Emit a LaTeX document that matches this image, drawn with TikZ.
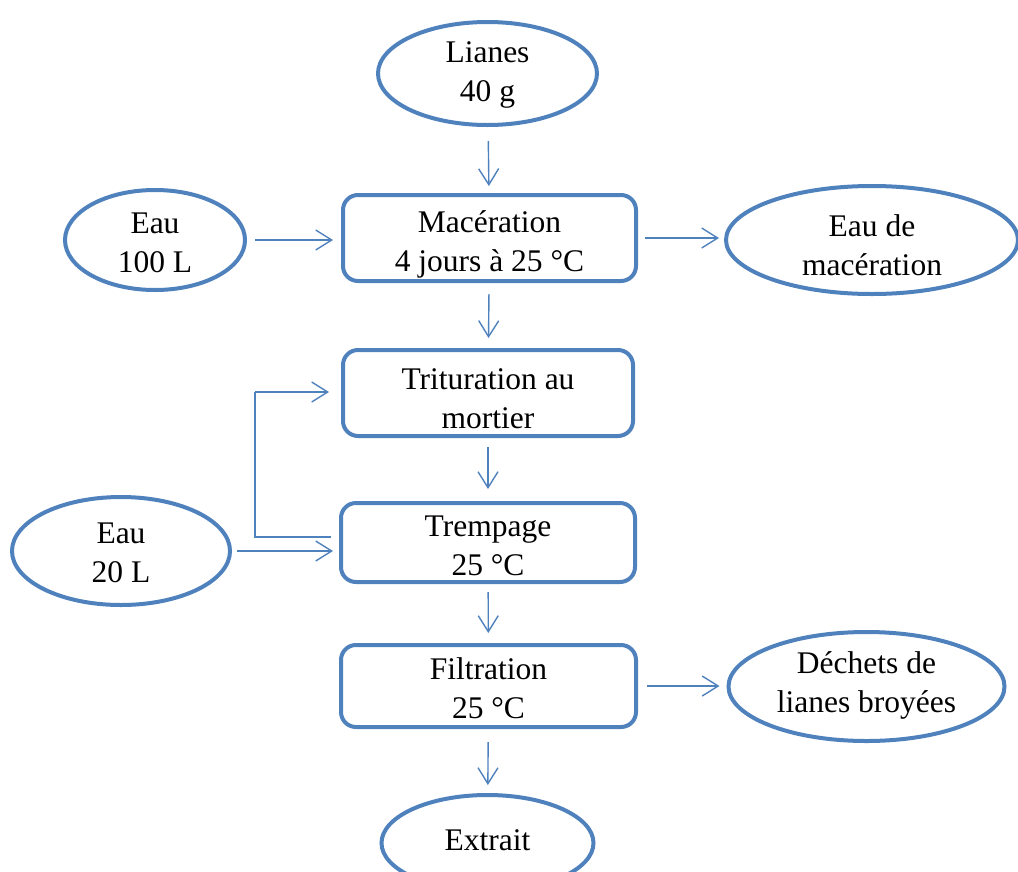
\documentclass[tikz,border=0pt]{standalone}
\usepackage{fontspec}
\setmainfont{Liberation Serif}
\usetikzlibrary{shapes.geometric,arrows.meta}
\definecolor{ofblue}{HTML}{4F81BD}
\begin{document}
\begin{tikzpicture}[x=1pt,y=-1pt,
  every node/.style={font=\fontsize{31.5}{39}\selectfont, align=center, text=black},
  oval/.style={ellipse, draw=ofblue, line width=4pt, inner sep=0pt},
  stepbox/.style={rectangle, rounded corners=15pt, draw=ofblue, line width=4pt, inner sep=0pt},
  arr/.style={draw=ofblue, line width=1.4pt, -{Straight Barb[length=16pt,width=20pt]}},
  plain/.style={draw=ofblue, line width=1.4pt}]
\useasboundingbox (0,0) rectangle (1018,871);
% nodes
\node[oval, minimum width=219pt, minimum height=103pt] (lianes) at (487.5,73.5) {};
\node at (487.5,75) {Lianes\\40 g};
\node[stepbox, minimum width=293pt, minimum height=86pt] (mac) at (489.5,238) {};
\node at (489.5,244) {Macération\\4 jours à 25 °C};
\node[oval, minimum width=180pt, minimum height=100pt] (eau1) at (155,240) {};
\node at (155,243) {Eau\\100 L};
\node[oval, minimum width=292pt, minimum height=108pt] (eaumac) at (872,240) {};
\node at (872,245) {Eau de\\macération};
\node[stepbox, minimum width=290pt, minimum height=86pt] (trit) at (488,393) {};
\node at (488,399) {Trituration au\\mortier};
\node[stepbox, minimum width=294pt, minimum height=79pt] (tremp) at (488,542.5) {};
\node at (488,546) {Trempage\\25 °C};
\node[oval, minimum width=218pt, minimum height=108pt] (eau2) at (121,551) {};
\node at (121,553) {Eau\\20 L};
\node[stepbox, minimum width=295pt, minimum height=82pt] (filt) at (488.5,686) {};
\node at (488.5,688) {Filtration\\25 °C};
\node[oval, minimum width=276pt, minimum height=109pt] (dechets) at (866.5,686.5) {};
\node at (866.5,685) {Déchets de\\lianes broyées};
\node[oval, minimum width=212pt, minimum height=96pt] (extrait) at (487.5,843) {};
\node at (487.5,840) {Extrait};
% connectors
\draw[arr, shorten <=14pt, shorten >=7pt] (lianes) -- (mac);
\draw[arr, shorten <=8pt, shorten >=8pt] (eau1) -- (mac.west|-eau1);
\draw[arr, shorten <=7pt, shorten >=5pt] (mac.east) -- (eaumac.west|-mac.east);
\draw[arr, shorten <=11pt, shorten >=10pt] (mac) -- (trit);
\draw[arr, shorten <=9pt, shorten >=12pt] (trit) -- (tremp);
\draw[arr, shorten <=5pt, shorten >=6pt] (eau2.east) -- (tremp.west|-eau2.east);
\coordinate (j1) at (255,537);
\coordinate (j2) at (255,392);
\draw[plain, shorten <=8pt] (tremp.west|-j1) -- (j1) -- (j2);
\draw[arr, shorten >=12pt] (j2) -- (trit.west|-j2);
\draw[arr, shorten <=8pt, shorten >=10pt] (tremp) -- (filt);
\draw[arr, shorten <=9pt, shorten >=7pt] (filt.east) -- (dechets.west|-filt.east);
\draw[arr, shorten <=13pt, shorten >=8pt] (filt) -- (extrait);
\end{tikzpicture}
\end{document}
